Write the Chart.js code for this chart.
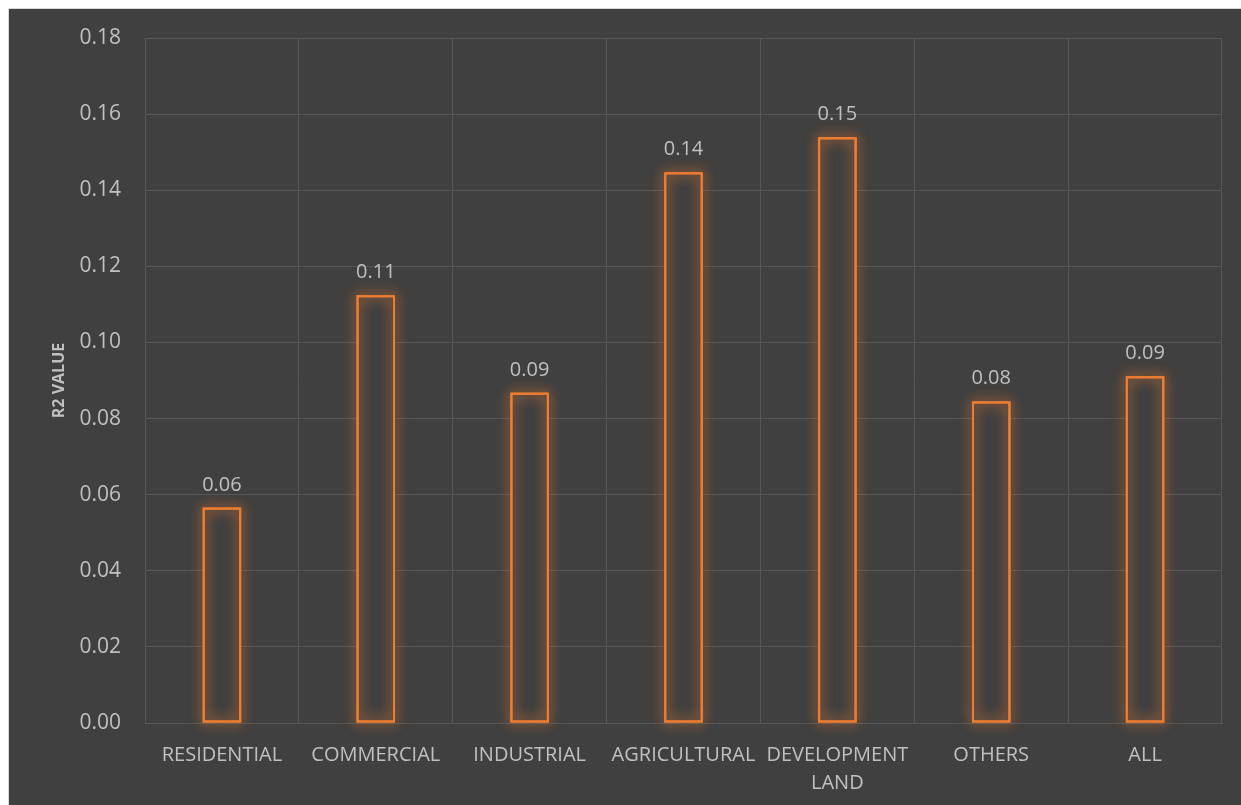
<!DOCTYPE html>
<html>
<head>
<meta charset="utf-8">
<script src="https://cdn.jsdelivr.net/npm/chart.js@4.4.1/dist/chart.umd.min.js"></script>
<style>
  html, body { margin: 0; padding: 0; background: #ffffff; }
  #wrap {
    position: absolute; left: 8px; top: 8px;
    width: 1233px; height: 797px;
    background: #404040;
    border-left: 1px solid #d9d9d9; border-top: 1px solid #d9d9d9;
    box-sizing: border-box;
  }
</style>
</head>
<body>
<div id="wrap"><canvas id="r2Chart"></canvas></div>
<script>
// kategori penggunaan lahan
const categories = ['RESIDENTIAL', 'COMMERCIAL', 'INDUSTRIAL', 'AGRICULTURAL', ['DEVELOPMENT', 'LAND'], 'OTHERS', 'ALL'];
// nilai R2 per kategori
const r2Values = [0.0566, 0.1124, 0.0868, 0.1447, 0.1539, 0.0845, 0.0911];
const yTicks = { min: 0, max: 0.18, step: 0.02 };

const orange = '#ED7D31';
const textGray = '#c0c0c0';
const gridGray = '#575757';
const fontFamily = '"Open Sans", "Noto Sans", sans-serif';

// glow di sekitar batang + label nilai di atasnya
const glowAndLabels = {
  id: 'glowAndLabels',
  afterDatasetsDraw(chart) {
    const ctx = chart.ctx;
    const meta = chart.getDatasetMeta(0);
    meta.data.forEach((bar, i) => {
      const left = bar.x - bar.width / 2;
      ctx.save();
      ctx.shadowColor = 'rgba(237, 125, 49, 0.85)';
      ctx.shadowBlur = 13;
      ctx.strokeStyle = orange;
      ctx.lineWidth = 2;
      for (let k = 0; k < 2; k++) {
        ctx.strokeRect(left + 1, bar.y + 1, bar.width - 2, bar.base - bar.y - 2);
      }
      ctx.restore();

      ctx.save();
      ctx.fillStyle = textGray;
      ctx.font = '20px ' + fontFamily;
      ctx.textAlign = 'center';
      ctx.textBaseline = 'alphabetic';
      ctx.fillText(r2Values[i].toFixed(2), bar.x, bar.y - 17);
      ctx.restore();
    });
  }
};

const ctx = document.getElementById('r2Chart').getContext('2d');
new Chart(ctx, {
  type: 'bar',
  data: {
    labels: categories,
    datasets: [{
      label: 'R2 VALUE',
      data: r2Values,
      backgroundColor: '#404040',
      borderColor: orange,
      borderWidth: 2,
      borderSkipped: false,
      barPercentage: 0.25,
      categoryPercentage: 1
    }]
  },
  options: {
    responsive: true,
    maintainAspectRatio: false,
    animation: false,
    layout: { padding: { top: 29, right: 19, left: 0, bottom: 0 } },
    plugins: {
      legend: { display: false },
      tooltip: { enabled: false }
    },
    scales: {
      x: {
        grid: { color: gridGray, lineWidth: 1, drawTicks: false, offset: true },
        border: { color: gridGray },
        ticks: {
          color: textGray,
          font: { family: fontFamily, size: 20, lineHeight: 1.4 },
          padding: 18,
          maxRotation: 0,
          autoSkip: false
        },
        afterFit(scale) { scale.height = 82; }
      },
      y: {
        min: yTicks.min,
        max: yTicks.max,
        grid: { color: gridGray, lineWidth: 1, drawTicks: false },
        border: { color: gridGray },
        ticks: {
          stepSize: yTicks.step,
          color: textGray,
          // lineHeight kecil supaya padding atas tidak membesar
          font: { family: fontFamily, size: 21, lineHeight: 0.4 },
          padding: 24,
          callback: v => v.toFixed(2)
        },
        title: {
          display: true,
          text: 'R2 VALUE',
          color: textGray,
          font: { family: fontFamily, size: 16, weight: 'bold' },
          padding: { top: 41, bottom: 0 }
        },
        afterFit(scale) { scale.width = 136; }
      }
    }
  },
  plugins: [glowAndLabels]
});
</script>
</body>
</html>
